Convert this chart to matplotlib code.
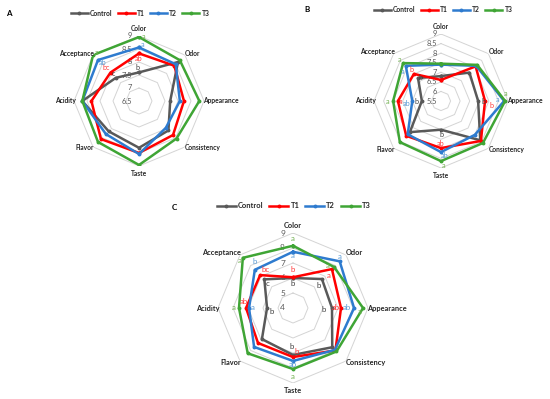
import numpy as np
import matplotlib
matplotlib.use("Agg")
import matplotlib.pyplot as plt
from matplotlib.lines import Line2D

plt.rcParams['font.family'] = ['Lato', 'DejaVu Sans']

# attributes, clockwise from the top
attributes = ["Color", "Odor", "Appearance", "Consistency",
              "Taste", "Flavor", "Acidity", "Acceptance"]
series_names = ["Control", "T1", "T2", "T3"]

# panel A
a_ticks = [6.5, 7, 7.5, 8, 8.5, 9]
a_control = [7.6, 8.62, 7.7, 8.1, 8.3, 8.15, 8.68, 7.76]
a_t1 = [8.33, 8.42, 8.23, 8.35, 8.5, 8.57, 8.33, 8.05]
a_t2 = [8.56, 8.5, 8.07, 7.96, 8.54, 8.3, 8.68, 8.73]
a_t3 = [8.96, 8.72, 8.82, 8.54, 8.96, 8.73, 8.68, 9.0]
a_letters_control = ["b", "", "", "", "", "", "", "c"]
a_letters_t1 = ["ab", "", "", "", "", "", "", "bc"]
a_letters_t2 = ["a", "", "", "", "", "", "", "ab"]
a_letters_t3 = ["a", "", "", "", "", "", "", "a"]

# panel B
b_ticks = [5.5, 6, 6.5, 7, 7.5, 8, 8.5, 9]
b_control = [6.8, 7.6, 7.44, 8.4, 7.0, 7.8, 6.5, 7.2]
b_t1 = [6.6, 8.06, 7.8, 8.45, 7.96, 8.07, 7.75, 7.5]
b_t2 = [7.4, 8.1, 8.8, 8.0, 8.17, 7.96, 7.0, 8.1]
b_t3 = [7.45, 8.17, 8.85, 8.6, 8.64, 8.54, 8.0, 8.3]
b_letters_control = ["", "", "b", "", "b", "", "b", "b"]
b_letters_t1 = ["", "", "b", "", "ab", "", "a", "b"]
b_letters_t2 = ["", "", "a", "", "ab", "", "ab", "a"]
b_letters_t3 = ["", "", "a", "", "a", "", "a", "a"]

# panel C
c_ticks = [4, 5, 6, 7, 8, 9]
c_control = [6.0, 6.73, 6.6, 7.7, 7.13, 6.93, 5.73, 6.7]
c_t1 = [6.05, 7.67, 7.2, 8.0, 7.27, 7.3, 7.13, 7.1]
c_t2 = [7.75, 8.4, 8.07, 7.95, 7.53, 7.67, 6.93, 7.6]
c_t3 = [8.15, 7.87, 8.67, 8.1, 8.07, 8.27, 7.6, 8.73]
c_letters_control = ["b", "b", "b", "", "b", "", "b", "c"]
c_letters_t1 = ["b", "a", "ab", "", "b", "", "ab", "bc"]
c_letters_t2 = ["a", "a", "ab", "", "ab", "", "a", "b"]
c_letters_t3 = ["a", "a", "a", "", "a", "", "a", "a"]

line_colors = ["#595959", "#FF0000", "#2E7BCF", "#3FA535"]
letter_colors = ["#404040", "#FF3B3B", "#5B9BD5", "#70B04F"]

W, H = 550, 399
fig = plt.figure(figsize=(W / 100, H / 100), dpi=100)

n = len(attributes)
angles = np.linspace(0, 2 * np.pi, n, endpoint=False)
closed = np.append(angles, angles[0])

# where the attribute names sit (pixels from the outer vertex)
name_off = [(0, 4, "center", "bottom"), (0, 2, "left", "center"),
            (-1, 0, "left", "center"), (0, -1, "left", "center"),
            (0, -4, "center", "top"), (1, -1, "right", "center"),
            (2, 0, "right", "center"), (1, 2, "right", "center")]

# where the letters sit (pixels from the point), key = (series, attribute)
a_let_pos = {(3, 0): (5, 1), (2, 0): (4, 3), (1, 0): (0, -5), (0, 0): (-1, 5),
             (3, 7): (4, 3), (2, 7): (5, -2), (1, 7): (-4, 5), (0, 7): (-2, 4)}
b_let_pos = {(3, 2): (0, 7), (2, 2): (-7, 2), (1, 2): (6, -5), (0, 2): (5, 0),
             (0, 4): (0, -5), (1, 4): (0, 5), (2, 4): (4, -3), (3, 4): (3, -4),
             (3, 6): (-6, 0), (1, 6): (3, 0), (2, 6): (-6, -3), (0, 6): (-5, -1),
             (3, 7): (-4, 4), (2, 7): (-3, -6), (1, 7): (-2, 4), (0, 7): (3, 0)}
c_let_pos = {(3, 0): (0, 7), (2, 0): (0, -4), (1, 0): (0, 8), (0, 0): (0, -6),
             (2, 1): (0, 5), (3, 1): (-6, 1), (1, 1): (-3, -6), (0, 1): (-3, -6),
             (3, 2): (-3, -4), (2, 2): (-7, 0), (1, 2): (-5, 0), (0, 2): (-8, -1),
             (0, 4): (-1, 8), (1, 4): (4, 6), (2, 4): (0, -4), (3, 4): (0, -7),
             (3, 6): (-5, 0), (1, 6): (-2, 6), (2, 6): (4, 1), (0, 6): (5, -4),
             (3, 7): (-3, -3), (2, 7): (0, 8), (1, 7): (5, 6), (0, 7): (3, -4)}


def radar(cx, cy, rad, ticks, data, letters, let_pos, fs, tick_fs, tick_dx):
    ax = fig.add_axes([(cx - rad) / W, (H - cy - rad) / H,
                       2 * rad / W, 2 * rad / H], projection="polar")
    ax.set_theta_offset(np.pi / 2)
    ax.set_theta_direction(-1)
    ax.set_ylim(ticks[0], ticks[-1])
    ax.axis("off")
    for t in ticks[1:]:
        ax.plot(closed, [t] * (n + 1), color="#D4D4D4", lw=0.7, zorder=1)
    for t in ticks:
        ax.annotate(f"{t:g}", (0, t), xytext=(tick_dx, 0), textcoords="offset pixels",
                    ha="right", va="center", fontsize=tick_fs, color="#595959",
                    zorder=2)
    for vals, col in zip(data, line_colors):
        v = list(vals) + [vals[0]]
        ax.plot(closed, v, color=col, lw=1.8, marker="o", ms=1.8, zorder=3)
    for i, name in enumerate(attributes):
        dx, dy, ha, va = name_off[i]
        ax.annotate(name, (angles[i], ticks[-1]), xytext=(dx, dy),
                    textcoords="offset pixels", ha=ha, va=va,
                    fontsize=fs, fontweight="bold", color="#262626",
                    annotation_clip=False)
    for k, (vals, lets, col) in enumerate(zip(data, letters, letter_colors)):
        for i, s in enumerate(lets):
            if s:
                dx, dy = let_pos.get((k, i), (0, 0))
                ax.annotate(s, (angles[i], vals[i]), xytext=(dx, dy),
                            textcoords="offset pixels", ha="center", va="center",
                            fontsize=fs + 0.4, color=col, zorder=4,
                            annotation_clip=False)
    return ax


def legend(cx, cy, fs):
    handles = [Line2D([0], [0], color=c, lw=1.8, marker="o", ms=1.8)
               for c in line_colors]
    leg = fig.legend(handles, series_names, loc="center",
                     bbox_to_anchor=(cx / W, 1 - cy / H), ncol=4, frameon=False,
                     prop={"size": fs, "weight": "bold"}, handlelength=2.5,
                     handletextpad=0.3, columnspacing=0.8)
    for t in leg.get_texts():
        t.set_color("#262626")


radar(139, 101, 65, a_ticks, [a_control, a_t1, a_t2, a_t3],
      [a_letters_control, a_letters_t1, a_letters_t2, a_letters_t3],
      a_let_pos, 4.8, 5.4, -7)
radar(441, 101, 67, b_ticks, [b_control, b_t1, b_t2, b_t3],
      [b_letters_control, b_letters_t1, b_letters_t2, b_letters_t3],
      b_let_pos, 4.8, 5.4, -4)
radar(293, 308, 75, c_ticks, [c_control, c_t1, c_t2, c_t3],
      [c_letters_control, c_letters_t1, c_letters_t2, c_letters_t3],
      c_let_pos, 5.3, 6.0, -8)

legend(140, 13, 4.9)
legend(443, 10, 4.9)
legend(294, 206, 5.4)

fig.text(6 / W, 1 - 13 / H, "A", fontsize=5.8, fontweight="bold", va="center")
fig.text(304 / W, 1 - 10 / H, "B", fontsize=5.8, fontweight="bold", va="center")
fig.text(172 / W, 1 - 207 / H, "C", fontsize=5.8, fontweight="bold", va="center")

fig.savefig("out.png", dpi=100)
